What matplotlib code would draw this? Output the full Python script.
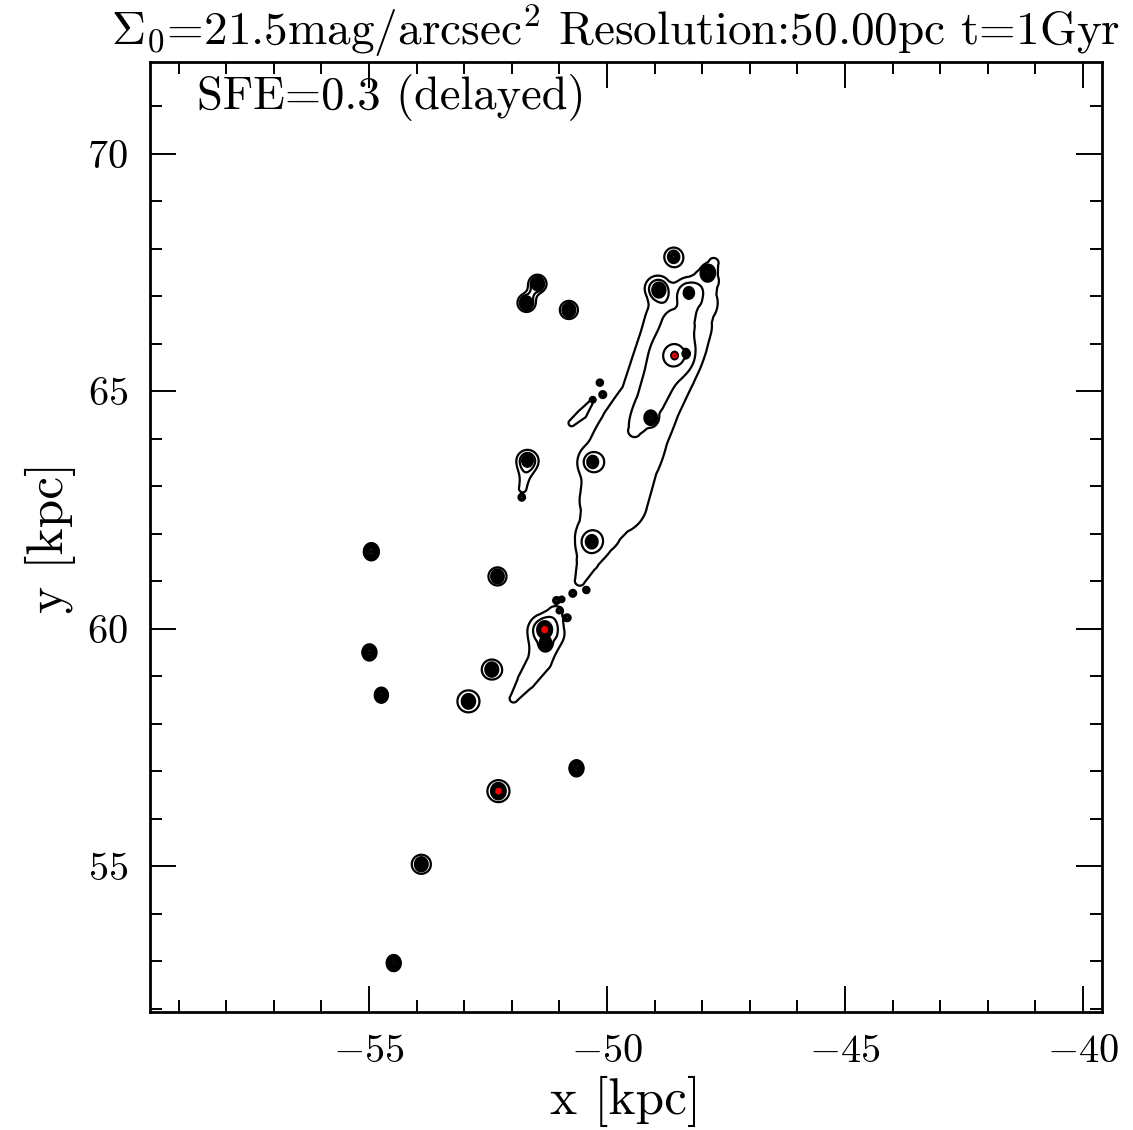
import numpy as np
import matplotlib
matplotlib.use("Agg")
import matplotlib.pyplot as plt
from matplotlib.ticker import MultipleLocator

plt.rcParams["font.family"] = ["cmr10", "DejaVu Serif"]
plt.rcParams["mathtext.fontset"] = "cm"
plt.rcParams["axes.formatter.use_mathtext"] = True

# compact clumps: centre [kpc], peak, core width [kpc]
clump_x = [-48.60, -51.46, -51.69, -50.80, -48.91, -48.28, -47.88, -48.58, -48.34,
           -49.08, -51.67, -50.30, -50.32, -54.95, -52.30, -51.31, -51.29, -54.99,
           -52.42, -54.74, -52.91, -50.64, -52.28, -53.90, -54.48]
clump_y = [67.83, 67.26, 66.86, 66.71, 67.13, 67.07, 67.49, 65.75, 65.79,
           64.44, 63.54, 63.51, 61.83, 61.62, 61.10, 59.98, 59.69, 59.50,
           59.14, 58.60, 58.47, 57.06, 56.58, 55.04, 52.96]
clump_amp = [220, 220, 220, 220, 220, 220, 220, 1000, 220,
             220, 220, 220, 220, 220, 220, 800, 220, 220,
             220, 220, 220, 220, 800, 220, 220]
clump_sig = [0.031, 0.039, 0.039, 0.038, 0.045, 0.034, 0.045, 0.020, 0.026,
             0.045, 0.037, 0.037, 0.040, 0.048, 0.037, 0.045, 0.042, 0.045,
             0.037, 0.042, 0.037, 0.045, 0.039, 0.037, 0.045]
clump_elong = 1.15  # clumps are slightly taller than wide

# fainter envelopes around some of the clumps
halo_x = [-48.60, -51.46, -51.69, -50.80, -48.91, -48.28, -48.58, -51.67,
          -50.30, -50.32, -52.30, -51.31, -52.42, -52.91, -52.28, -53.90]
halo_y = [67.83, 67.26, 66.86, 66.71, 67.13, 67.07, 65.75, 63.54,
          63.51, 61.83, 61.10, 59.98, 59.14, 58.47, 56.58, 55.04]
halo_amp = [2.5, 2.5, 2.5, 2.5, 2.5, 2.5, 5.0, 2.5,
            2.5, 2.5, 2.5, 2.5, 2.5, 2.5, 2.5, 2.5]
halo_sig = [0.140, 0.140, 0.140, 0.140, 0.150, 0.140, 0.200, 0.155,
            0.140, 0.148, 0.140, 0.186, 0.155, 0.171, 0.171, 0.148]

# small debris knots along the tidal features
debris_x = [-50.15, -50.09, -50.30, -51.79, -50.72, -50.43, -51.06, -51.00, -50.83, -50.95]
debris_y = [65.18, 64.93, 64.82, 62.76, 60.74, 60.81, 60.60, 60.38, 60.23, 60.62]
debris_amp = [8, 8, 8, 8, 8, 8, 8, 8, 8, 8]
debris_sig = [0.030, 0.030, 0.026, 0.030, 0.030, 0.026, 0.030, 0.026, 0.030, 0.026]

# tidal filament spines: points, peak, width
main_x = [-47.76, -47.92, -48.18, -48.51, -48.60, -48.83, -49.08, -49.42, -49.69, -49.86, -50.15, -50.40, -50.57]
main_y = [67.70, 67.32, 66.86, 66.38, 66.06, 65.43, 64.80, 64.17, 63.54, 62.70, 62.07, 61.43, 61.01]
main_amp = [1.3, 1.6, 2.0, 2.5, 2.6, 2.6, 2.4, 2.05, 1.6, 1.5, 1.4, 1.3, 1.1]
main_sig = [0.145, 0.28, 0.43, 0.528, 0.517, 0.502, 0.493, 0.614, 0.80, 0.794, 0.563, 0.32, 0.24]

arm_x = [-48.95, -48.75]
arm_y = [67.18, 66.75]
arm_amp = [1.5, 1.6]
arm_sig = [0.20, 0.22]

low_x = [-51.08, -51.25, -51.41, -51.69, -51.96]
low_y = [60.34, 59.86, 59.33, 58.91, 58.53]
low_amp = [1.3, 1.5, 1.5, 1.4, 1.2]
low_sig = [0.174, 0.327, 0.28, 0.23, 0.14]

island_x = [-50.74, -50.52, -50.36]
island_y = [64.33, 64.52, 64.73]
island_amp = [1.6, 1.8, 1.4]
island_sig = [0.07, 0.09, 0.06]

tail_x = [-51.67, -51.77]
tail_y = [63.50, 62.95]
tail_amp = [1.4, 1.2]
tail_sig = [0.12, 0.13]

bridge_x = [-51.46, -51.69]
bridge_y = [67.26, 66.86]
bridge_amp = [1.2, 1.2]
bridge_sig = [0.06, 0.06]

black_levels = [1, 2, 5, 10, 20, 50, 100, 200, 400]
red_levels = [600]


def ridge(px, py, amp, sig, X, Y):
    out = np.zeros_like(X)
    for i in range(len(px) - 1):
        dx, dy = px[i + 1] - px[i], py[i + 1] - py[i]
        t = ((X - px[i]) * dx + (Y - py[i]) * dy) / (dx * dx + dy * dy)
        t = np.clip(t, 0, 1)
        d2 = (X - px[i] - t * dx) ** 2 + (Y - py[i] - t * dy) ** 2
        a = amp[i] + t * (amp[i + 1] - amp[i])
        s = sig[i] + t * (sig[i + 1] - sig[i])
        out = np.maximum(out, a * np.exp(-d2 / (2 * s * s)))
    return out


gx = np.arange(-57.0, -46.0, 0.012)
gy = np.arange(52.0, 69.0, 0.012)
X, Y = np.meshgrid(gx, gy)

Z = np.zeros_like(X)
for fx, fy, fa, fs in [(main_x, main_y, main_amp, main_sig),
                       (arm_x, arm_y, arm_amp, arm_sig),
                       (low_x, low_y, low_amp, low_sig),
                       (island_x, island_y, island_amp, island_sig),
                       (tail_x, tail_y, tail_amp, tail_sig),
                       (bridge_x, bridge_y, bridge_amp, bridge_sig)]:
    Z = np.maximum(Z, ridge(fx, fy, fa, fs, X, Y))
for cx, cy, a, s in zip(halo_x + debris_x, halo_y + debris_y,
                        halo_amp + debris_amp, halo_sig + debris_sig):
    Z += a * np.exp(-((X - cx) ** 2 + (Y - cy) ** 2) / (2 * s * s))
for cx, cy, a, s in zip(clump_x, clump_y, clump_amp, clump_sig):
    sy = s * clump_elong
    Z += a * np.exp(-(X - cx) ** 2 / (2 * s * s) - (Y - cy) ** 2 / (2 * sy * sy))

fig = plt.figure(figsize=(11.33, 11.30), dpi=100)
ax = fig.add_axes([150 / 1133, 118 / 1130, 952 / 1133, 950 / 1130])

ax.contour(X, Y, Z, levels=black_levels, colors="k", linewidths=1.6)
ax.contour(X, Y, Z, levels=red_levels, colors="red", linewidths=2.6)

ax.set_xlim(-59.6, -39.6)
ax.set_ylim(51.93, 71.93)
ax.xaxis.set_major_locator(MultipleLocator(5))
ax.xaxis.set_minor_locator(MultipleLocator(1))
ax.yaxis.set_major_locator(MultipleLocator(5))
ax.yaxis.set_minor_locator(MultipleLocator(1))
ax.tick_params(which="both", direction="in", top=True, right=True, width=1.4, labelsize=29, pad=16)
ax.tick_params(which="major", length=18.7)
ax.tick_params(which="minor", length=8.6)
for sp in ax.spines.values():
    sp.set_linewidth(2)

ax.set_xlabel("x [kpc]", fontsize=37, labelpad=4)
ax.set_ylabel("y [kpc]", fontsize=37, labelpad=8)
ax.text(0.049, 0.963, "SFE=0.3 (delayed)", transform=ax.transAxes, fontsize=33.5,
        ha="left", va="center")
fig.text(0.543, 0.960, r"$\Sigma_0$=21.5mag/arcsec$^2$ Resolution:50.00pc t=1Gyr",
         fontsize=34, ha="center", va="baseline")

fig.savefig("out.png", dpi=100)
